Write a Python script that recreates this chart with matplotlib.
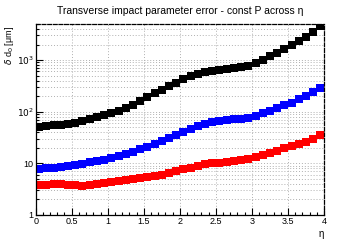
import numpy as np
import matplotlib.pyplot as plt
from matplotlib.ticker import LogLocator, FixedLocator, MultipleLocator, FuncFormatter

plt.rcParams['font.family'] = ['Liberation Sans', 'DejaVu Sans']

# bin centres in eta
eta = np.arange(40) * 0.1 + 0.05

# black series
black = [50, 52, 54, 55, 58, 61, 65, 71, 78, 86,
         95, 105, 118, 135, 160, 190, 225, 265, 310, 365,
         420, 480, 535, 585, 620, 650, 680, 710, 735, 775,
         880, 1000, 1180, 1400, 1650, 1950, 2300, 2800, 3500, 4500]

# blue series
blue = [7.7, 7.9, 8.1, 8.4, 8.8, 9.3, 9.8, 10.4, 11.1, 11.8,
        12.7, 13.8, 15.0, 16.5, 18.5, 21, 24, 27.5, 31.5, 36,
        41, 47, 53, 58, 63, 66, 69, 71, 73, 75,
        84, 93, 105, 118, 132, 150, 172, 200, 240, 285]

# red series
red = [3.7, 3.7, 3.9, 3.9, 3.8, 3.75, 3.65, 3.8, 3.95, 4.1,
       4.3, 4.5, 4.7, 4.9, 5.1, 5.4, 5.7, 6.0, 6.5, 7.0,
       7.6, 8.2, 8.9, 9.5, 10.0, 10.3, 10.6, 11.0, 11.3, 12.0,
       13.0, 14.3, 15.8, 17.5, 19.3, 21.3, 23.5, 26.3, 30, 35]

ylabels = {1: '1', 10: '10', 100: r'$10^2$', 1000: r'$10^3$'}

fig = plt.figure(figsize=(3.6, 2.4), dpi=100)
ax = fig.add_axes([0.099, 0.105, 0.801, 0.795])

ax.plot(eta, black, 's', color='black', ms=5.9, mew=0)
ax.plot(eta, blue, 's', color='#0000ff', ms=5.9, mew=0)
ax.plot(eta, red, 's', color='#ff0000', ms=5.9, mew=0)

ax.set_yscale('log')
ax.set_xlim(0, 4)
ax.set_ylim(1, 5000)

ax.xaxis.set_major_locator(MultipleLocator(0.5))
ax.xaxis.set_minor_locator(MultipleLocator(0.1))
ax.xaxis.set_major_formatter(FuncFormatter(lambda v, p: '%g' % v))
ax.yaxis.set_major_locator(FixedLocator([1, 10, 100, 1000]))
ax.yaxis.set_minor_locator(LogLocator(base=10, subs=np.arange(2, 10)))
ax.yaxis.set_major_formatter(FuncFormatter(lambda v, p: ylabels.get(int(round(v)), '')))
ax.yaxis.set_minor_formatter(FuncFormatter(lambda v, p: ''))

ax.tick_params(which='both', direction='in', labelsize=6.5, width=0.8, pad=1.5)
ax.tick_params(which='major', length=5)
ax.tick_params(which='minor', length=2.5)

ax.grid(True, which='major', axis='x', ls=(0, (1, 2)), color='#b0b0b0', lw=0.7)
ax.grid(True, which='both', axis='y', ls=(0, (1, 2)), color='#b0b0b0', lw=0.7)

ax.spines['top'].set_linestyle((0, (3, 1.5)))
ax.spines['right'].set_linestyle((0, (3, 1.5)))
for s in ax.spines.values():
    s.set_linewidth(0.9)

ax.set_title('Transverse impact parameter error - const P across η', fontsize=7.5, pad=7)
ax.set_xlabel('η', fontsize=7, loc='right', labelpad=2)
ax.set_ylabel(r'$\delta$ d$_0$ [μm]', fontsize=6.5, loc='top')
ax.yaxis.set_label_coords(-0.068, 0.99)

fig.savefig('out.png', dpi=100)
